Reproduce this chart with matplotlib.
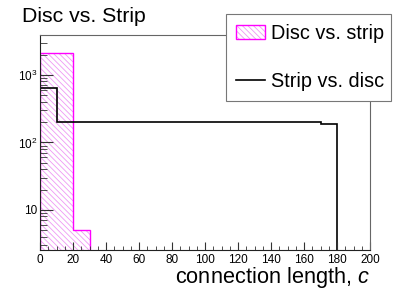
import numpy as np
import matplotlib
matplotlib.use("Agg")
import matplotlib.pyplot as plt
from matplotlib.ticker import FixedLocator, MultipleLocator, NullFormatter

plt.rcParams['font.family'] = ['Liberation Sans', 'DejaVu Sans']
plt.rcParams['mathtext.fontset'] = 'custom'
plt.rcParams['mathtext.rm'] = 'Liberation Sans'
plt.rcParams['mathtext.it'] = 'Liberation Sans:italic'
plt.rcParams['hatch.linewidth'] = 0.6

# histogram data (bin width 10, 0..200)
bin_edges = np.arange(0, 210, 10)
disc_vs_strip = [2100, 2140, 5, 0, 0, 0, 0, 0, 0, 0,
                 0, 0, 0, 0, 0, 0, 0, 0, 0, 0]
strip_vs_disc = [635, 203, 200, 200, 200, 199, 199, 199, 199, 199,
                 199, 200, 200, 200, 201, 200, 199, 190, 0, 0]
ytick_vals = [10, 100, 1000]
ytick_labels = ['10', '10$^{2}$', '10$^{3}$']

floor = 1e-2
d = np.asarray(disc_vs_strip, float)
s = np.asarray(strip_vs_disc, float)
d = np.where(d > 0, d, floor)
s = np.where(s > 0, s, floor)

fig = plt.figure(figsize=(4.11, 2.95), dpi=100)
ax = fig.add_axes([40/411, 1-250/295, 330/411, 215/295])

# light hatch + magenta outline
h_fill = ax.stairs(d, bin_edges, fill=True, baseline=floor, facecolor='none',
                   edgecolor='#ee99f4', linewidth=0, hatch='\\' * 6)
h_edge = ax.stairs(d, bin_edges, fill=True, baseline=floor, facecolor='none',
                   edgecolor='#ff00ff', linewidth=1.0)
h_line = ax.stairs(s, bin_edges, baseline=None, color='black', linewidth=1.2)

ax.set_yscale('log')
ax.set_xlim(0, 200)
ax.set_ylim(2.55, 3900)

ax.xaxis.set_major_locator(MultipleLocator(20))
ax.xaxis.set_minor_locator(MultipleLocator(5))
ax.yaxis.set_major_locator(FixedLocator(ytick_vals))
ax.set_yticklabels(ytick_labels)
ax.yaxis.set_minor_locator(matplotlib.ticker.LogLocator(base=10, subs=np.arange(2, 10)))
ax.yaxis.set_minor_formatter(NullFormatter())

ax.tick_params(axis='both', which='both', direction='in', labelsize=8.5,
               color='#333333', top=False, right=False)
ax.tick_params(axis='x', which='major', length=6, pad=3)
ax.tick_params(axis='x', which='minor', length=3)
ax.tick_params(axis='y', which='major', length=9, pad=2)
ax.tick_params(axis='y', which='minor', length=5)

for side in ['left', 'bottom']:
    ax.spines[side].set_color('#222222')
for side in ['top', 'right']:
    ax.spines[side].set_color('#666666')

fig.text(22/411, 1-22/295, 'Disc vs. Strip', fontsize=15.3, va='baseline')
fig.text(370/411, 1-283/295, 'connection length, $c$', fontsize=15.7,
         ha='right', va='baseline')

leg = fig.legend(handles=[(h_fill, h_edge), h_line],
                 labels=['Disc vs. strip', 'Strip vs. disc'],
                 loc='upper left',
                 bbox_to_anchor=(226/411, 1-102/295, 165/411, 88/295),
                 mode='expand', fontsize=14.3, frameon=True, fancybox=False,
                 framealpha=1, edgecolor='#777777', borderpad=0.5,
                 labelspacing=1.45, handlelength=1.45, handletextpad=0.3,
                 borderaxespad=0)
leg.get_frame().set_linewidth(0.8)

fig.savefig('out.png', dpi=100)
